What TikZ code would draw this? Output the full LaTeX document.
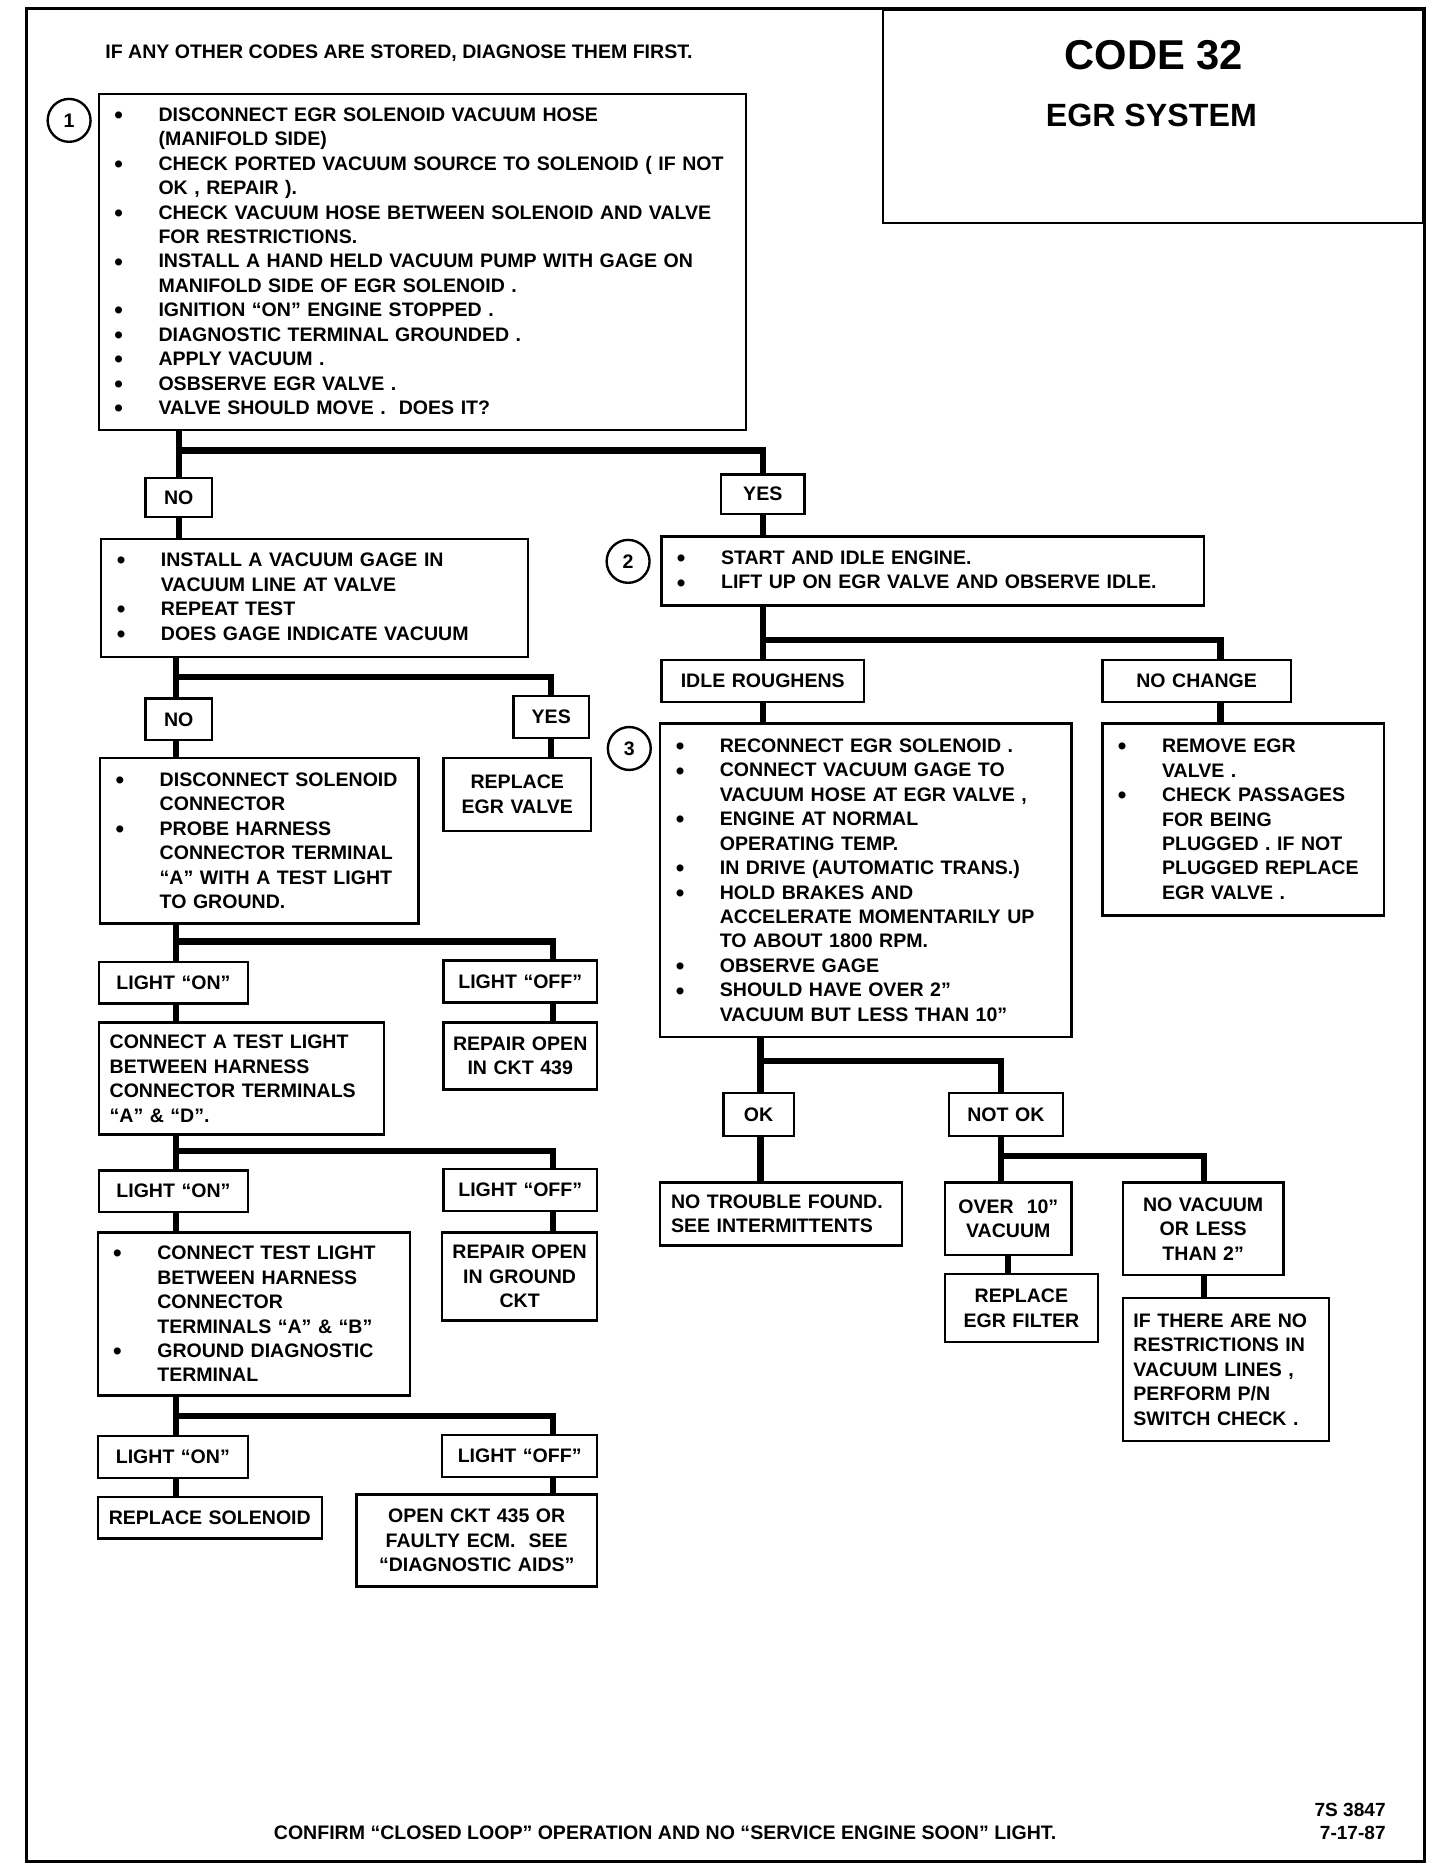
\documentclass[tikz,border=0pt]{standalone}
\usepackage{fontspec}
\setmainfont{Liberation Sans}
\usetikzlibrary{calc}

\setlength{\parindent}{0pt}
\newcommand{\bul}{\hspace*{6.5pt}\makebox[18.5pt][l]{\raisebox{-0.9pt}{\scalebox{1.25}{\textbullet}}}}
\newcommand{\ind}{\hspace*{25pt}}

\begin{document}
\begin{tikzpicture}[x = 0.5pt, y = -0.5pt,
        every node/.style = {font = \bfseries\fontsize{8.2}{10.25}\selectfont},
        box/.style  = {draw, line width = 1pt, inner sep = 0pt, anchor = north west},
        lbox/.style = {box, align = left},
        cbox/.style = {box, align = center},
        wh/.style 2 args = {minimum width = #1pt, minimum height = #2pt, text width = #1pt},
        num/.style  = {draw, circle, line width = 1pt, minimum size = 18pt, inner sep = 0pt},
        link/.style = {line width = 2.6pt}]
        \useasboundingbox (0,0) rectangle (1208,1569);

        % frame and title
        \draw[line width = 1.1pt] (22,7) rectangle (1195,1562);
        \node (title) [box, anchor = north east, minimum width = 226.5pt, minimum height = 89.5pt] at (1195,7) {};
        \node (code) [font = \bfseries\fontsize{17.5}{20}\selectfont] at (968,46) {CODE 32};
        \node (sys)  [font = \bfseries\fontsize{13.5}{16}\selectfont] at (966,97) {EGR SYSTEM};
        \node (first) [anchor = west, inner sep = 0pt] at (88,45) {IF ANY OTHER CODES ARE STORED, DIAGNOSE THEM FIRST.};

        % step 1
        \node (chk1) [lbox, wh = {271.5}{141}] at (82,78) {%
            \bul DISCONNECT EGR SOLENOID VACUUM HOSE\\
            \ind (MANIFOLD SIDE)\\
            \bul CHECK PORTED VACUUM SOURCE TO SOLENOID ( IF NOT\\
            \ind OK , REPAIR ).\\
            \bul CHECK VACUUM HOSE BETWEEN SOLENOID AND VALVE\\
            \ind FOR RESTRICTIONS.\\
            \bul INSTALL A HAND HELD VACUUM PUMP WITH GAGE ON\\
            \ind MANIFOLD SIDE OF EGR SOLENOID .\\
            \bul IGNITION “ON” ENGINE STOPPED .\\
            \bul DIAGNOSTIC TERMINAL GROUNDED .\\
            \bul APPLY VACUUM .\\
            \bul OSBSERVE EGR VALVE .\\
            \bul VALVE SHOULD MOVE .\ \ DOES IT?};
        \node (n1) [num] at (58,101) {1};

        \node (no1)  [cbox, wh = {28}{16.5}] at (121,400) {NO};
        \node (yes1) [cbox, wh = {35}{16.5}] at (604,397) {YES};

        % left branch
        \node (gage) [lbox, wh = {179}{49.5}] at (84,451) {%
            \bul INSTALL A VACUUM GAGE IN\\
            \ind VACUUM LINE AT VALVE\\
            \bul REPEAT TEST\\
            \bul DOES GAGE INDICATE VACUUM};
        \node (no2)  [cbox, wh = {28}{17.5}]   at (121,585) {NO};
        \node (yes2) [cbox, wh = {31.5}{17.5}] at (430,583) {YES};
        \node (egrv) [cbox, wh = {62}{30.5}]   at (371,635) {REPLACE\\EGR VALVE};
        \node (probe) [lbox, wh = {133.5}{69.5}] at (83,635) {%
            \bul DISCONNECT SOLENOID\\
            \ind CONNECTOR\\
            \bul PROBE HARNESS\\
            \ind CONNECTOR TERMINAL\\
            \ind “A” WITH A TEST LIGHT\\
            \ind TO GROUND.};

        \node (on1)  [cbox, wh = {62.5}{17.5}] at (82,806)  {LIGHT “ON”};
        \node (off1) [cbox, wh = {64.5}{17.5}] at (371,805) {LIGHT “OFF”};
        \node (tl1) [lbox, minimum width = 119.5pt, minimum height = 47pt, text width = 110.5pt, inner xsep = 4.5pt] at (82,857) {%
            CONNECT A TEST LIGHT\\
            BETWEEN HARNESS\\
            CONNECTOR TERMINALS\\
            “A” \& “D”.};
        \node (ckt439) [cbox, wh = {64.5}{28}] at (371,857) {REPAIR OPEN\\IN CKT 439};

        \node (on2)  [cbox, wh = {62.5}{17.5}] at (82,981)  {LIGHT “ON”};
        \node (off2) [cbox, wh = {64.5}{17.5}] at (371,980) {LIGHT “OFF”};
        \node (tl2) [lbox, wh = {131}{68.5}] at (81,1033) {%
            \bul CONNECT TEST LIGHT\\
            \ind BETWEEN HARNESS\\
            \ind CONNECTOR\\
            \ind TERMINALS “A” \& “B”\\
            \bul GROUND DIAGNOSTIC\\
            \ind TERMINAL};
        \node (gnd) [cbox, wh = {65}{37}] at (370,1033) {REPAIR OPEN\\IN GROUND\\CKT};

        \node (on3)  [cbox, wh = {63}{17.5}] at (81,1204)  {LIGHT “ON”};
        \node (off3) [cbox, wh = {65}{17.5}] at (370,1203) {LIGHT “OFF”};
        \node (sol) [cbox, wh = {94}{17.5}]  at (81,1255)  {REPLACE SOLENOID};
        \node (ecm) [cbox, wh = {101}{38.5}] at (298,1253) {OPEN CKT 435 OR\\FAULTY ECM.\ \ SEE\\“DIAGNOSTIC AIDS”};

        % right branch
        \node (idle) [lbox, wh = {227.5}{29}] at (554,449) {%
            \bul START AND IDLE ENGINE.\\
            \bul LIFT UP ON EGR VALVE AND OBSERVE IDLE.};
        \node (n2) [num] at (527,471) {2};

        \node (rough) [cbox, wh = {85}{17.5}] at (554,553) {IDLE ROUGHENS};
        \node (nochg) [cbox, wh = {79}{17.5}] at (924,553) {NO CHANGE};

        \node (accel) [lbox, wh = {172.5}{131.5}] at (553,606) {%
            \bul RECONNECT EGR SOLENOID .\\
            \bul CONNECT VACUUM GAGE TO\\
            \ind VACUUM HOSE AT EGR VALVE ,\\
            \bul ENGINE AT NORMAL\\
            \ind OPERATING TEMP.\\
            \bul IN DRIVE (AUTOMATIC TRANS.)\\
            \bul HOLD BRAKES AND\\
            \ind ACCELERATE MOMENTARILY UP\\
            \ind TO ABOUT 1800 RPM.\\
            \bul OBSERVE GAGE\\
            \bul SHOULD HAVE OVER 2”\\
            \ind VACUUM BUT LESS THAN 10”};
        \node (n3) [num] at (528,628) {3};
        \node (remove) [lbox, wh = {118}{80.5}] at (924,606) {%
            \bul REMOVE EGR\\
            \ind VALVE .\\
            \bul CHECK PASSAGES\\
            \ind FOR BEING\\
            \ind PLUGGED . IF NOT\\
            \ind PLUGGED REPLACE\\
            \ind EGR VALVE .};

        \node (ok)    [cbox, wh = {29.5}{18}] at (606,916) {OK};
        \node (notok) [cbox, wh = {48}{18}]   at (795,916) {NOT OK};
        \node (ntf) [lbox, minimum width = 101.5pt, minimum height = 26.5pt, text width = 92.5pt, inner xsep = 4.5pt] at (553,991) {%
            NO TROUBLE FOUND.\\
            SEE INTERMITTENTS};
        \node (over)   [cbox, wh = {53}{30.5}]   at (792,991)  {OVER\ \ 10”\\VACUUM};
        \node (novac)  [cbox, wh = {67.5}{39}]   at (941,991)  {NO VACUUM\\OR LESS\\THAN 2”};
        \node (filter) [cbox, wh = {64}{28.5}]   at (792,1068) {REPLACE\\EGR FILTER};
        \node (pn) [lbox, minimum width = 86.5pt, minimum height = 60pt, text width = 77.5pt, inner xsep = 4.5pt] at (941,1088) {%
            IF THERE ARE NO\\
            RESTRICTIONS IN\\
            VACUUM LINES ,\\
            PERFORM P/N\\
            SWITCH CHECK .};

        % footer
        \node (confirm) at (558,1538) {CONFIRM “CLOSED LOOP” OPERATION AND NO “SERVICE ENGINE SOON” LIGHT.};
        \node (ref) [anchor = east, align = right, inner sep = 0pt, font = \bfseries\fontsize{8}{9.5}\selectfont] at (1163,1528) {7S 3847\\7-17-87};

        % connectors
        \coordinate (b1) at (150,378);
        \draw[link] (chk1.south -| b1) -- (no1.north -| b1);
        \draw[link] (b1) -| (yes1.north);
        \draw[link] (no1.south -| b1) -- (gage.north -| b1);
        \draw[link] (yes1.south) -- (yes1.south |- idle.north);

        \coordinate (b2)  at (640,537);
        \coordinate (b2r) at (1024,537);
        \draw[link] (idle.south -| b2) -- (rough.north -| b2);
        \draw[link] (b2) -- (b2r) -- (b2r |- nochg.north);
        \draw[link] (rough.south -| b2) -- (accel.north -| b2);
        \draw[link] (nochg.south -| b2r) -- (remove.north -| b2r);

        \coordinate (b3)  at (638,890);
        \coordinate (b3r) at (840,890);
        \draw[link] (accel.south -| b3) -- (ok.north -| b3);
        \draw[link] (b3) -- (b3r) -- (b3r |- notok.north);
        \draw[link] (ok.south -| b3) -- (ntf.north -| b3);

        \coordinate (b4)  at (840,970);
        \coordinate (b4r) at (1010,970);
        \draw[link] (notok.south -| b4) -- (over.north -| b4);
        \draw[link] (b4) -- (b4r) -- (b4r |- novac.north);
        \draw[link] (over.south) -- (over.south |- filter.north);
        \draw[link] (novac.south -| b4r) -- (pn.north -| b4r);

        \coordinate (b5)  at (148,568);
        \coordinate (b5r) at (462,568);
        \draw[link] (gage.south -| b5) -- (no2.north -| b5);
        \draw[link] (b5) -- (b5r) -- (b5r |- yes2.north);
        \draw[link] (yes2.south -| b5r) -- (egrv.north -| b5r);
        \draw[link] (no2.south -| b5) -- (probe.north -| b5);

        \coordinate (b6)  at (148,790);
        \coordinate (b6r) at (464,790);
        \draw[link] (probe.south -| b6) -- (on1.north -| b6);
        \draw[link] (b6) -- (b6r) -- (b6r |- off1.north);
        \draw[link] (on1.south -| b6) -- (tl1.north -| b6);
        \draw[link] (off1.south -| b6r) -- (ckt439.north -| b6r);

        \coordinate (b7)  at (148,966);
        \coordinate (b7r) at (464,966);
        \draw[link] (tl1.south -| b7) -- (on2.north -| b7);
        \draw[link] (b7) -- (b7r) -- (b7r |- off2.north);
        \draw[link] (on2.south -| b7) -- (tl2.north -| b7);
        \draw[link] (off2.south -| b7r) -- (gnd.north -| b7r);

        \coordinate (b8)  at (148,1188);
        \coordinate (b8r) at (464,1188);
        \draw[link] (tl2.south -| b8) -- (on3.north -| b8);
        \draw[link] (b8) -- (b8r) -- (b8r |- off3.north);
        \draw[link] (on3.south -| b8) -- (sol.north -| b8);
        \draw[link] (off3.south -| b8r) -- (ecm.north -| b8r);

    \end{tikzpicture}
\end{document}
